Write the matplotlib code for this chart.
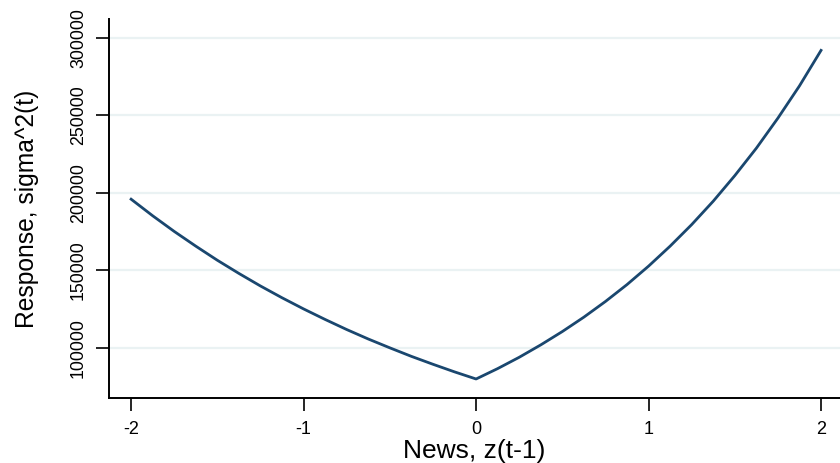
import matplotlib
matplotlib.use("Agg")
import matplotlib.pyplot as plt

plt.rcParams['font.family'] = ['Liberation Sans', 'DejaVu Sans']

news_z = [-2.0, -1.875, -1.75, -1.625, -1.5, -1.375, -1.25, -1.125,
          -1.0, -0.875, -0.75, -0.625, -0.5, -0.375, -0.25, -0.125, 0.0,
          0.125, 0.25, 0.375, 0.5, 0.625, 0.75, 0.875, 1.0,
          1.125, 1.25, 1.375, 1.5, 1.625, 1.75, 1.875, 2.0]
response = [196000, 185300, 175200, 165700, 156600, 148100, 140000, 132400,
            125200, 118400, 111900, 105800, 100100, 94600, 89500, 84600, 80000,
            86700, 94000, 102000, 110600, 119900, 130000, 140900, 152800,
            165700, 179600, 194700, 211200, 228900, 248300, 269100, 292000]

x_ticks = [-2, -1, 0, 1, 2]
y_ticks = [100000, 150000, 200000, 250000, 300000]

fig = plt.figure(figsize=(8.4, 4.63), dpi=100)
ax = fig.add_axes([0.1298, 0.1404, 0.8702, 0.8186])

for yt in y_ticks:
    ax.axhline(yt, color='#eaf2f3', lw=1.6, zorder=0)

ax.plot(news_z, response, color='#1a476f', lw=2.0, solid_joinstyle='round')

ax.set_xlim(-2.128, 2.11)
ax.set_ylim(67740, 312260)
ax.set_xticks(x_ticks)
ax.set_xticklabels([str(t) for t in x_ticks])
ax.set_yticks(y_ticks)
ax.set_yticklabels([str(t) for t in y_ticks], rotation=90, va='center')

for s in ['top', 'right']:
    ax.spines[s].set_visible(False)
for s in ['left', 'bottom']:
    ax.spines[s].set_linewidth(1.4)
    ax.spines[s].set_color('black')

ax.tick_params(axis='both', length=9.4, width=1.2, colors='black')
ax.tick_params(axis='x', pad=7, labelsize=13)
ax.tick_params(axis='y', pad=6.5, labelsize=12.8)

ax.set_xlabel('News, z(t-1)', fontsize=19, labelpad=1)
ax.set_ylabel('Response, sigma^2(t)', fontsize=17.7, labelpad=22)

fig.savefig('out.png', dpi=100)
